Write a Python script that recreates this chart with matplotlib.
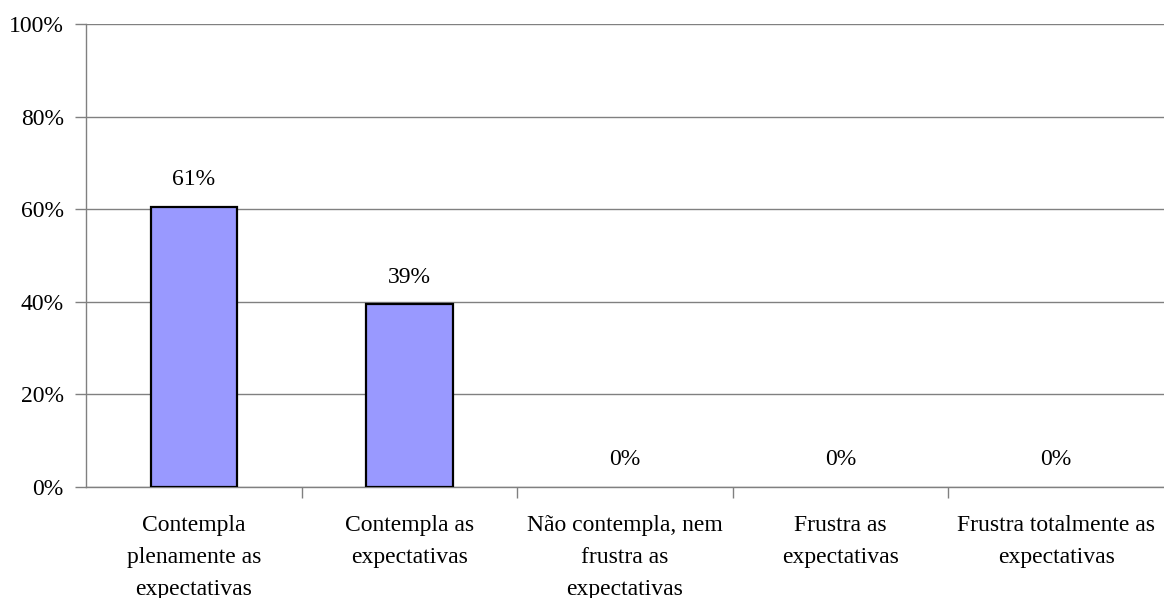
import matplotlib.pyplot as plt

# Dados do gráfico
categorias = ['Contempla\nplenamente as\nexpectativas',
              'Contempla as\nexpectativas',
              'Não contempla, nem\nfrustra as\nexpectativas',
              'Frustra as\nexpectativas',
              'Frustra totalmente as\nexpectativas']
valores = [60.5, 39.5, 0, 0, 0]
rotulos = ['61%', '39%', '0%', '0%', '0%']
ticks_y = [0, 20, 40, 60, 80, 100]

plt.rcParams['font.family'] = ['Liberation Serif', 'DejaVu Serif']

fig = plt.figure(figsize=(11.64, 5.98), dpi=100)
ax = fig.add_axes([0.0739, 0.1856, 0.9261, 0.7743])

x = range(len(categorias))
# barras com valor zero não têm contorno visível
larguras = [1.6 if v > 0 else 0 for v in valores]
ax.bar(x, valores, width=0.4, color='#9999FF', edgecolor='black', linewidth=larguras, zorder=3)

# Rótulos de valor acima das barras
for xi, v, r in zip(x, valores, rotulos):
    ax.annotate(r, (xi, v), xytext=(0, 19.5), textcoords='offset points',
                ha='center', va='center', fontsize=17)

ax.set_xlim(-0.5, len(categorias) - 0.5)
ax.set_ylim(0, 100)
ax.set_yticks(ticks_y)
ax.set_yticklabels([f'{t}%' for t in ticks_y], fontsize=17)
ax.yaxis.grid(True, color='#808080', linewidth=1.0, zorder=0)

# Marcas do eixo x entre categorias, rótulos no centro
ax.set_xticks([i + 0.5 for i in range(len(categorias) - 1)])
ax.set_xticklabels([])
ax.set_xticks(list(x), minor=True)
ax.set_xticklabels(categorias, minor=True, fontsize=17, linespacing=1.68)
ax.tick_params(axis='x', which='minor', length=0, pad=20)
ax.tick_params(axis='x', which='major', length=8, color='#808080', width=1)
ax.tick_params(axis='y', length=8, color='#808080', width=1, pad=8)

for s in ['top', 'right']:
    ax.spines[s].set_visible(False)
for s in ['left', 'bottom']:
    ax.spines[s].set_color('#808080')
    ax.spines[s].set_linewidth(1.0)

fig.savefig('out.png', dpi=100)
